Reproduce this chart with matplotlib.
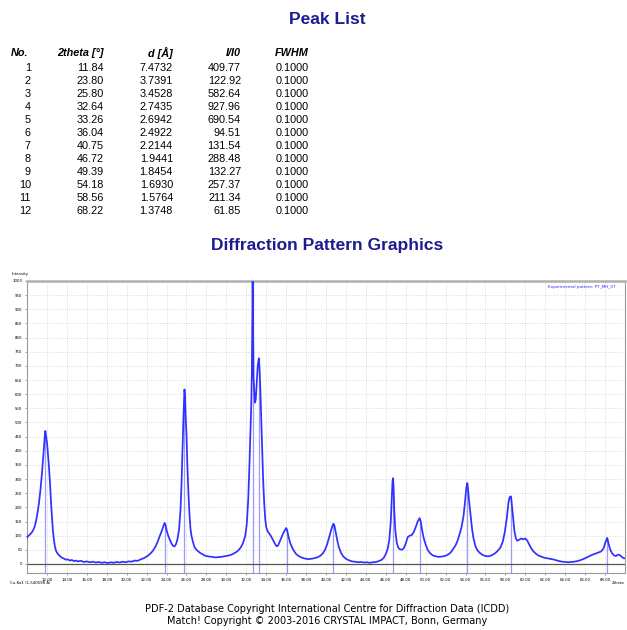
import matplotlib
matplotlib.use("Agg")
import matplotlib.pyplot as plt

# peak list (as printed)
peak_no = [1, 2, 3, 4, 5, 6, 7, 8, 9, 10, 11, 12]
peak_2theta = [11.84, 23.80, 25.80, 32.64, 33.26, 36.04, 40.75, 46.72, 49.39, 54.18, 58.56, 68.22]
peak_d = [7.4732, 3.7391, 3.4528, 2.7435, 2.6942, 2.4922, 2.2144, 1.9441, 1.8454, 1.6930, 1.5764, 1.3748]
peak_i = [409.77, 122.92, 582.64, 927.96, 690.54, 94.51, 131.54, 288.48, 132.27, 257.37, 211.34, 61.85]
peak_fwhm = [0.1000] * 12
# height of the marker lines (observed counts at each peak)
peak_top = [470, 145, 617, 1000, 727, 127, 142, 303, 162, 286, 239, 92]

# experimental pattern
obs_2theta = [
    10.0, 10.15, 10.3, 10.45, 10.6, 10.75, 10.9, 11.05, 11.2, 11.35, 11.5, 11.6, 11.7, 11.78,
    11.84, 11.9, 11.96, 12.02, 12.1, 12.2, 12.3, 12.4, 12.5, 12.6, 12.7, 12.8, 12.9, 13.0,
    13.15, 13.3, 13.5, 13.7, 13.9, 14.1, 14.3, 14.5, 14.7, 14.9, 15.1, 15.4, 15.7, 16.0,
    16.3, 16.6, 16.9, 17.2, 17.5, 17.8, 18.1, 18.4, 18.7, 19.0, 19.3, 19.6, 19.9, 20.2,
    20.5, 20.8, 21.1, 21.4, 21.7, 22.0, 22.3, 22.6, 22.9, 23.1, 23.3, 23.5, 23.65, 23.8,
    23.9, 24.0, 24.15, 24.3, 24.5, 24.65, 24.8, 24.95, 25.1, 25.25, 25.4, 25.5, 25.6, 25.7,
    25.8, 25.86, 25.92, 26.0, 26.1, 26.2, 26.3, 26.4, 26.5, 26.65, 26.8, 27.0, 27.2, 27.4,
    27.6, 27.8, 28.0, 28.3, 28.6, 28.9, 29.2, 29.5, 29.8, 30.1, 30.4, 30.7, 31.0, 31.2,
    31.4, 31.6, 31.75, 31.9, 32.05, 32.2, 32.3, 32.4, 32.5, 32.56, 32.6, 32.64, 32.68, 32.73,
    32.8, 32.87, 32.95, 33.05, 33.15, 33.26, 33.33, 33.4, 33.5, 33.6, 33.7, 33.8, 33.9, 34.0,
    34.15, 34.3, 34.45, 34.6, 34.75, 34.9, 35.05, 35.2, 35.4, 35.6, 35.8, 36.0, 36.1, 36.25,
    36.4, 36.6, 36.8, 37.0, 37.3, 37.6, 37.9, 38.2, 38.5, 38.8, 39.1, 39.4, 39.7, 39.9,
    40.1, 40.3, 40.5, 40.65, 40.75, 40.85, 41.0, 41.15, 41.3, 41.5, 41.7, 42.0, 42.3, 42.6,
    42.9, 43.2, 43.5, 43.8, 44.1, 44.4, 44.7, 45.0, 45.3, 45.6, 45.8, 46.0, 46.2, 46.35,
    46.5, 46.6, 46.67, 46.72, 46.78, 46.85, 46.95, 47.1, 47.25, 47.4, 47.6, 47.8, 48.0, 48.2,
    48.4, 48.6, 48.8, 49.0, 49.2, 49.39, 49.5, 49.65, 49.8, 50.0, 50.2, 50.4, 50.6, 50.8,
    51.0, 51.3, 51.6, 51.9, 52.2, 52.5, 52.8, 53.0, 53.2, 53.4, 53.6, 53.8, 53.95, 54.08,
    54.18, 54.26, 54.35, 54.5, 54.65, 54.8, 55.0, 55.2, 55.4, 55.7, 56.0, 56.3, 56.6, 56.9,
    57.2, 57.5, 57.75, 57.95, 58.15, 58.3, 58.42, 58.56, 58.66, 58.78, 58.9, 59.05, 59.2, 59.4,
    59.6, 59.8, 60.0, 60.2, 60.4, 60.6, 60.8, 61.0, 61.3, 61.6, 61.9, 62.2, 62.5, 62.8,
    63.1, 63.4, 63.7, 64.0, 64.3, 64.6, 64.9, 65.2, 65.5, 65.8, 66.1, 66.4, 66.7, 67.0,
    67.3, 67.6, 67.85, 68.05, 68.22, 68.35, 68.5, 68.7, 68.9, 69.1, 69.3, 69.5, 69.7, 69.9,
    70.0,
]
obs_counts = [
    92, 100, 104, 110, 118, 130, 150, 180, 215, 262, 320, 365, 410, 452,
    470, 455, 440, 425, 390, 345, 290, 225, 168, 118, 85, 62, 48, 40,
    33, 28, 22, 19, 15, 16, 12, 14, 10, 12, 9, 11, 7, 9,
    6, 8, 5, 7, 4, 6, 3, 6, 4, 7, 5, 8, 6, 9,
    8, 12, 11, 16, 20, 26, 34, 45, 62, 78, 96, 115, 130, 145,
    138, 120, 102, 88, 72, 64, 62, 70, 88, 120, 190, 280, 400, 520,
    617, 590, 520, 460, 340, 250, 175, 125, 100, 78, 60, 50, 44, 38,
    35, 30, 28, 26, 25, 23, 24, 25, 27, 29, 31, 36, 42, 48,
    56, 68, 82, 100, 140, 230, 330, 450, 560, 680, 860, 1000, 860, 660,
    610, 570, 580, 640, 700, 727, 690, 630, 520, 400, 290, 215, 160, 130,
    115, 108, 100, 90, 80, 70, 62, 66, 82, 100, 115, 127, 118, 95,
    75, 58, 45, 35, 27, 22, 19, 17, 18, 20, 23, 28, 38, 50,
    68, 92, 118, 135, 142, 135, 108, 80, 58, 40, 28, 18, 13, 9,
    8, 6, 7, 5, 6, 4, 6, 7, 10, 15, 22, 35, 55, 85,
    150, 230, 290, 303, 270, 190, 120, 75, 58, 52, 50, 55, 72, 95,
    100, 102, 112, 130, 150, 162, 150, 118, 92, 68, 50, 40, 33, 29,
    27, 25, 26, 28, 32, 40, 55, 66, 82, 105, 130, 170, 220, 270,
    286, 262, 225, 175, 125, 90, 62, 48, 40, 32, 28, 27, 30, 36,
    45, 58, 80, 115, 165, 215, 236, 239, 205, 160, 118, 90, 82, 86,
    90, 87, 90, 82, 68, 55, 45, 38, 30, 26, 22, 20, 18, 16,
    13, 10, 8, 7, 6, 7, 8, 10, 13, 17, 22, 27, 32, 36,
    40, 44, 55, 78, 92, 72, 52, 38, 30, 28, 33, 31, 24, 20,
    20,
]

x_ticks = list(range(12, 70, 2))
y_ticks = list(range(0, 1001, 50))

NAVY = "#1c1c8e"
FONT = ["Liberation Sans", "DejaVu Sans"]
W, H = 627, 630

fig = plt.figure(figsize=(6.27, 6.30), dpi=100)


def fx(px):
    return px / W


def fy(py):
    return 1 - py / H


# titles
fig.text(fx(327), fy(20), "Peak List", ha="center", va="center",
         fontsize=12.5, fontweight="bold", color=NAVY, family=FONT)
fig.text(fx(327), fy(246), "Diffraction Pattern Graphics", ha="center", va="center",
         fontsize=12.5, fontweight="bold", color=NAVY, family=FONT)

# peak table
col_right = [31, 104, 173, 241, 309]
headers = ["No.", "2theta [°]", "d [Å]", "I/I0", "FWHM"]
for i, head in enumerate(headers):
    if i == 0:
        fig.text(fx(11), fy(53), head, ha="left", va="center", fontsize=7.8,
                 fontweight="bold", style="italic", family=FONT)
    else:
        fig.text(fx(col_right[i]), fy(53), head, ha="right", va="center", fontsize=7.8,
                 fontweight="bold", style="italic", family=FONT)

for r in range(len(peak_no)):
    y = fy(68 + r * 13.0)
    row = [f"{peak_no[r]}", f"{peak_2theta[r]:.2f}", f"{peak_d[r]:.4f}",
           f"{peak_i[r]:.2f}", f"{peak_fwhm[r]:.4f}"]
    for i, cell in enumerate(row):
        fig.text(fx(col_right[i]), y, cell, ha="right", va="center",
                 fontsize=7.8, family=FONT)

# pattern axes
ax = fig.add_axes([fx(27), fy(573), fx(625) - fx(27), fy(281) - fy(573)])
ax.set_xlim(10, 70)
ax.set_ylim(-32, 1000)

ax.vlines(peak_2theta, -32, peak_top, color="#9a9aff", linewidth=0.9, zorder=2)
ax.axhline(0, color="#555555", linewidth=0.9, zorder=2)
ax.plot(obs_2theta, obs_counts, color="#3030ff", linewidth=1.25, zorder=3)

ax.set_xticks(x_ticks)
ax.set_xticklabels([f"{t:.2f}" for t in x_ticks])
ax.set_yticks(y_ticks)
ax.tick_params(labelsize=2.8, length=1.5, width=0.5, color="#777777", pad=2)
ax.grid(True, color="#d0d0d0", linestyle=":", linewidth=0.6)
ax.set_axisbelow(True)
for name, spine in ax.spines.items():
    spine.set_color("#9a9a9a")
    spine.set_linewidth(0.8)
ax.spines["top"].set_linewidth(1.8)
ax.spines["top"].set_color("#b0b0b0")

ax.text(0.985, 0.985, "Experimental pattern: PT_MH_07", transform=ax.transAxes,
        ha="right", va="top", fontsize=3, color="#2a2aff")
fig.text(fx(12), fy(274), "Intensity", ha="left", va="center", fontsize=2.8)
fig.text(fx(10), fy(583), "Cu-Ka1 (1.540598 Å)", ha="left", va="center", fontsize=2.8)
fig.text(fx(624), fy(583), "2theta", ha="right", va="center", fontsize=2.8)

# footer
fig.text(fx(327), fy(609), "PDF-2 Database Copyright International Centre for Diffraction Data (ICDD)",
         ha="center", va="center", fontsize=7.0, family=["DejaVu Sans"])
fig.text(fx(327), fy(621), "Match! Copyright © 2003-2016 CRYSTAL IMPACT, Bonn, Germany",
         ha="center", va="center", fontsize=7.0, family=["DejaVu Sans"])

fig.savefig("out.png", dpi=100)
